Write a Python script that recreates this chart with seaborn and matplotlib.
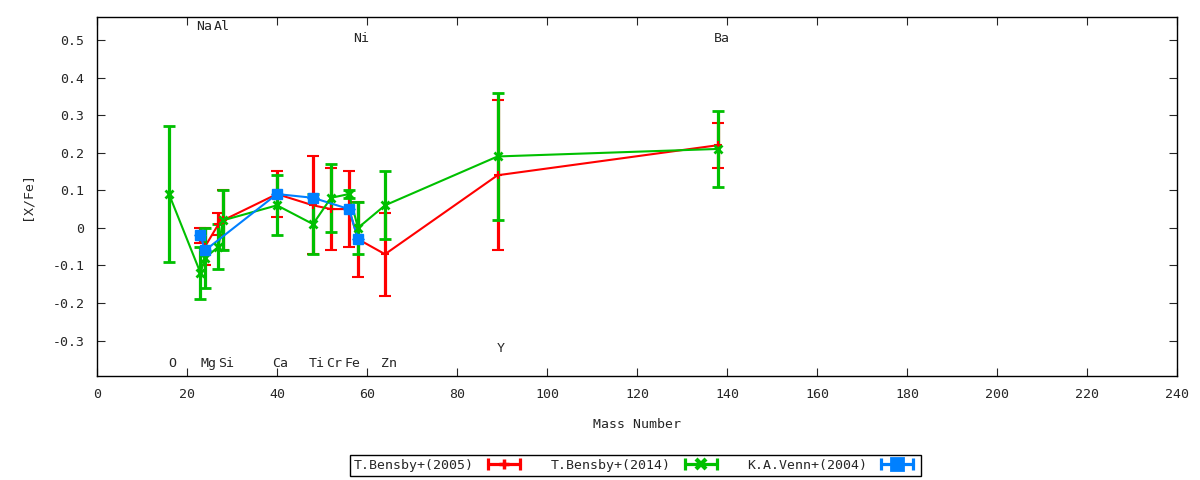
import seaborn as sns
import matplotlib.pyplot as plt
from matplotlib.lines import Line2D
from matplotlib.legend_handler import HandlerLine2D, HandlerTuple

# element labels (mass number, label y)
lab_name = ['O', 'Na', 'Mg', 'Al', 'Si', 'Ca', 'Ti', 'Cr', 'Fe', 'Ni', 'Zn', 'Y', 'Ba']
lab_mass = [16, 23, 24, 27, 28, 40, 48, 52, 56, 58, 64, 89, 138]
lab_y = [-0.36, 0.535, -0.36, 0.535, -0.36, -0.36, -0.36, -0.36, -0.36, 0.505, -0.36, -0.322, 0.505]

# T.Bensby+(2005)
b05_mass = [23, 24, 27, 28, 40, 48, 52, 56, 58, 64, 89, 138]
b05_val = [-0.02, -0.05, 0.01, 0.02, 0.09, 0.06, 0.05, 0.05, -0.03, -0.07, 0.14, 0.22]
b05_err = [0.02, 0.05, 0.03, 0.08, 0.06, 0.13, 0.11, 0.10, 0.10, 0.11, 0.20, 0.06]

# T.Bensby+(2014)
b14_mass = [16, 23, 24, 27, 28, 40, 48, 52, 56, 58, 64, 89, 138]
b14_val = [0.09, -0.12, -0.08, -0.05, 0.02, 0.06, 0.01, 0.08, 0.09, 0.00, 0.06, 0.19, 0.21]
b14_err = [0.18, 0.07, 0.08, 0.06, 0.08, 0.08, 0.08, 0.09, 0.01, 0.07, 0.09, 0.17, 0.10]

# K.A.Venn+(2004)
v04_mass = [23, 24, 40, 48, 56, 58]
v04_val = [-0.02, -0.06, 0.09, 0.08, 0.05, -0.03]
v04_err = [0, 0, 0, 0, 0, 0]

sns.set_style('ticks')
plt.rcParams['font.family'] = ['DejaVu Sans Mono', 'DejaVu Sans']
plt.rcParams['font.size'] = 9.5

fig = plt.figure(figsize=(12, 4.8), dpi=100)
ax = fig.add_axes([0.0808, 0.2167, 0.9002, 0.7479])

series = [
    ('T.Bensby+(2005)', b05_mass, b05_val, b05_err, '#ff0000', '+', 6, 1.5),
    ('T.Bensby+(2014)', b14_mass, b14_val, b14_err, '#00c000', 'x', 6, 2.0),
    ('K.A.Venn+(2004)', v04_mass, v04_val, v04_err, '#0080ff', 's', 7, 1.0),
]

handles, labels, hmap = [], [], {}
for name, m, v, e, c, mk, ms, mew in series:
    sns.lineplot(x=m, y=v, ax=ax, color=c, lw=1.5, sort=False, estimator=None)
    ax.errorbar(m, v, yerr=e, fmt=mk, color=c, ms=ms, mew=mew, elinewidth=2.3,
                capsize=4, capthick=2.3, lw=0)
    caps = Line2D([], [], color=c, lw=2.3, marker='|', ms=9, mew=2.3)
    mid = Line2D([], [], color=c, lw=0, marker=mk, ms=ms + 1, mew=mew + 1)
    hmap[caps] = HandlerLine2D(numpoints=2)
    hmap[mid] = HandlerLine2D(numpoints=1)
    handles.append((caps, mid))
    labels.append(name)

for n, mx, my in zip(lab_name, lab_mass, lab_y):
    ax.text(mx + 0.8, my, n, ha='center', va='center', fontsize=9.5)

ax.set_xlim(0, 240)
ax.set_ylim(-0.394, 0.561)
ax.set_xticks(range(0, 241, 20))
yt = [-0.3, -0.2, -0.1, 0, 0.1, 0.2, 0.3, 0.4, 0.5]
ax.set_yticks(yt)
ax.set_yticklabels(['0' if t == 0 else f'{t:.1f}' for t in yt])
ax.tick_params(direction='in', top=True, right=True, length=6, width=0.8, pad=9)
for s in ax.spines.values():
    s.set_linewidth(1)
    s.set_color('black')
ax.set_xlabel('Mass Number', labelpad=12)
ax.set_ylabel('[X/Fe]', labelpad=14)

handler_map = {tuple: HandlerTuple(ndivide=1)}
handler_map.update(hmap)
leg = fig.legend(handles, labels, handler_map=handler_map, loc='center',
                 bbox_to_anchor=(0.5296, 0.031), ncol=3, markerfirst=False,
                 fancybox=False, edgecolor='black', framealpha=1,
                 handlelength=3.0, columnspacing=2.0, borderpad=0.3,
                 handletextpad=0.8)
leg.get_frame().set_linewidth(1)

fig.savefig('out.png', dpi=100)
